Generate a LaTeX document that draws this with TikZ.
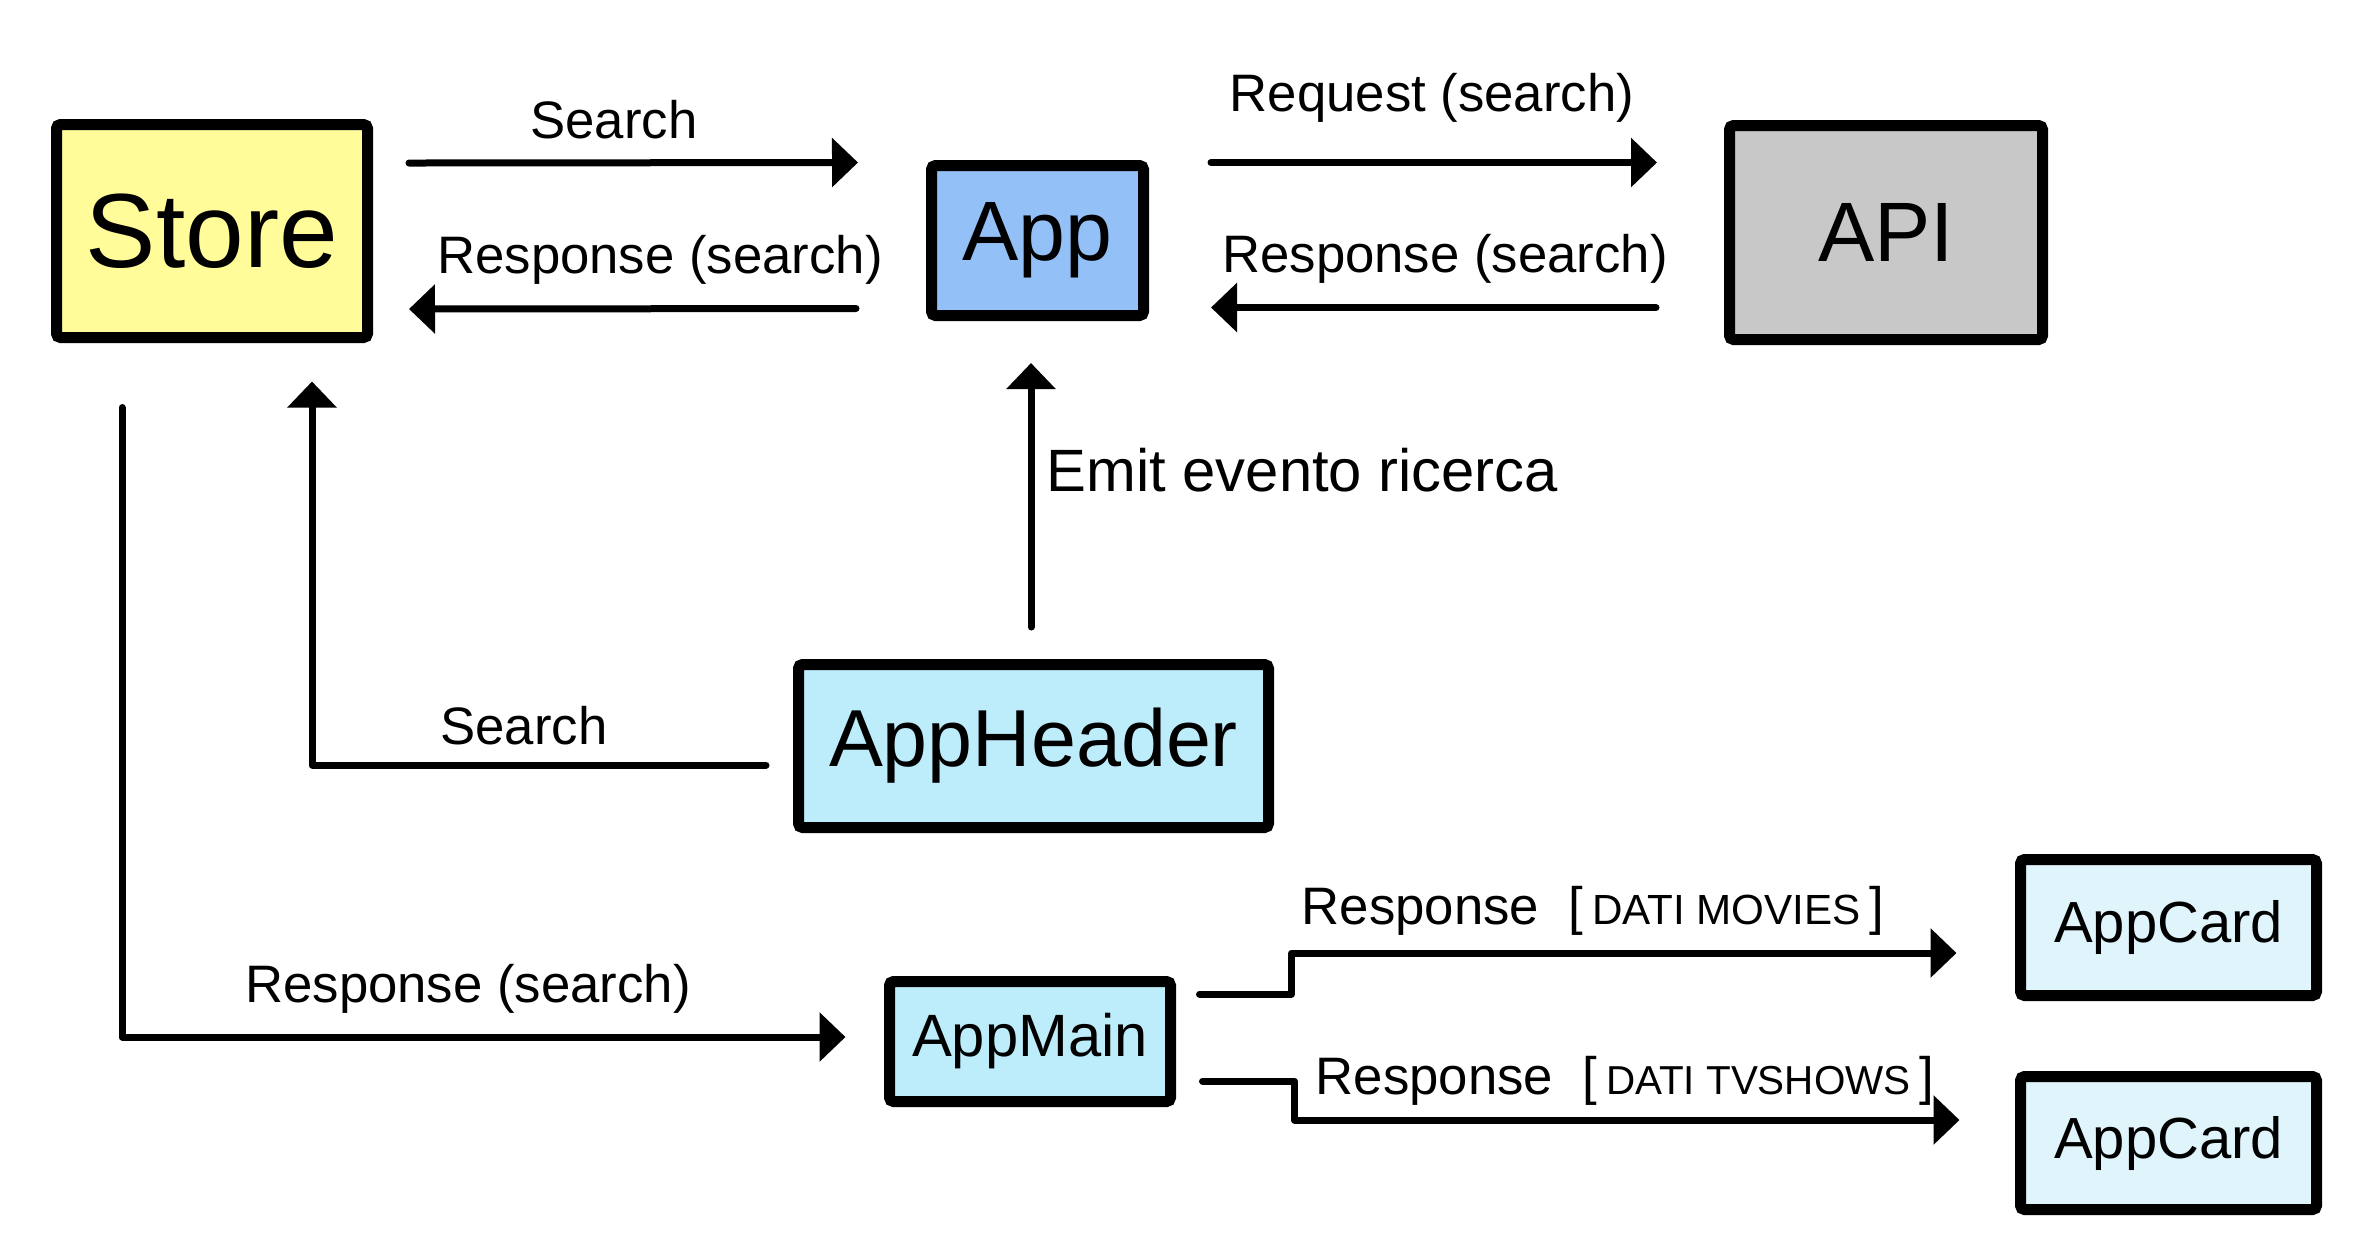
\documentclass[tikz,border=0pt]{standalone}
\usepackage{fontspec}
\setmainfont{Liberation Sans}
\usetikzlibrary{arrows.meta,calc}
\definecolor{storeY}{RGB}{255,252,153}
\definecolor{appB}{RGB}{146,192,247}
\definecolor{apiG}{RGB}{200,200,200}
\definecolor{hdrC}{RGB}{189,237,251}
\definecolor{cardC}{RGB}{224,244,251}
\begin{document}
\begin{tikzpicture}[x=0.1mm,y=-0.1mm,
  box/.style={draw=black,line width=1.1mm,rounded corners=0.4mm,inner sep=0pt,align=center},
  arr/.style={line width=0.7mm,line cap=round,line join=round,-{Triangle[length=2.6mm,width=4.8mm]}},
  lbl/.style={inner sep=0pt,font=\fontsize{15}{18}\selectfont}
]
\useasboundingbox[fill=white] (0,0) rectangle (2361,1256);

% boxes
\node[box,fill=storeY,minimum width=31.1mm,minimum height=21.3mm,font=\fontsize{30}{36}\selectfont] (store) at (212,231) {Store};
\node[box,fill=appB,minimum width=21.2mm,minimum height=15.0mm,font=\fontsize{24}{29}\selectfont] (app) at (1037.5,240.5) {App};
\node[box,fill=apiG,minimum width=31.3mm,minimum height=21.4mm,font=\fontsize{24}{29}\selectfont] (api) at (1886,232.5) {API};
\node[box,fill=hdrC,minimum width=47.0mm,minimum height=16.3mm,font=\fontsize{23}{28}\selectfont] (appheader) at (1033.5,746) {AppHeader};
\node[box,fill=hdrC,minimum width=28.1mm,minimum height=12.0mm,font=\fontsize{17}{21}\selectfont] (appmain) at (1030,1041.5) {AppMain};
\node[box,fill=cardC,minimum width=29.6mm,minimum height=13.6mm,font=\fontsize{16.5}{20}\selectfont] (card1) at (2168.5,927.5) {AppCard};
\node[box,fill=cardC,minimum width=29.6mm,minimum height=13.3mm,font=\fontsize{16.5}{20}\selectfont] (card2) at (2168.5,1143) {AppCard};

% top connectors
\draw[arr] ($(store.east)+(36,-68)$) -- ($(app.west)+(-68,-78)$);
\draw[arr] ($(app.west)+(-70,68)$) -- ($(store.east)+(36,78)$);
\draw[arr] ($(app.east)+(62,-78)$) -- ($(api.west)+(-67,-70)$);
\draw[arr] ($(api.west)+(-68,75)$) -- ($(app.east)+(62,67)$);

% emit
\draw[arr] ($(appheader.north)+(-2.5,-32)$) -- ($(app.south)+(-6.5,42)$);

% search from header to store
\draw[arr] ($(appheader.west)+(-27,19)$) -| ($(store.south)+(100,38.5)$);

% store to appmain
\draw[arr] ($(store.south)+(-90,64.5)$) |- ($(appmain.west)+(-38.5,-4.5)$);

% appmain to cards
\draw[arr] ($(appmain.east)+(23.5,-47.5)$) -- ++(92,0) |- ($(card1.west)+(-58.5,25.5)$);
\draw[arr] ($(appmain.east)+(26.5,39.5)$) -- ++(92,0) |- ($(card2.west)+(-55.5,-23)$);

% labels
\node[lbl] (l1) at (614,120) {Search};
\node[lbl] (l2) at (660,260) {Response (search)};
\node[lbl] (l3) at (1432,98) {Request (search)};
\node[lbl] (l4) at (1445,259) {Response (search)};
\node[lbl,anchor=west,font=\fontsize{17}{20}\selectfont] (l5) at (1046,470) {Emit evento ricerca};
\node[lbl] (l6) at (524,726) {Search};
\node[lbl] (l7) at (468,989) {Response (search)};
\node[lbl] (l8) at (1593,911) {Response\ \ [\,{\fontsize{12}{14}\selectfont DATI MOVIES}\,]};
\node[lbl] (l9) at (1625,1081) {Response\ \ [\,{\fontsize{11.5}{14}\selectfont DATI TVSHOWS}\,]};
\end{tikzpicture}
\end{document}
